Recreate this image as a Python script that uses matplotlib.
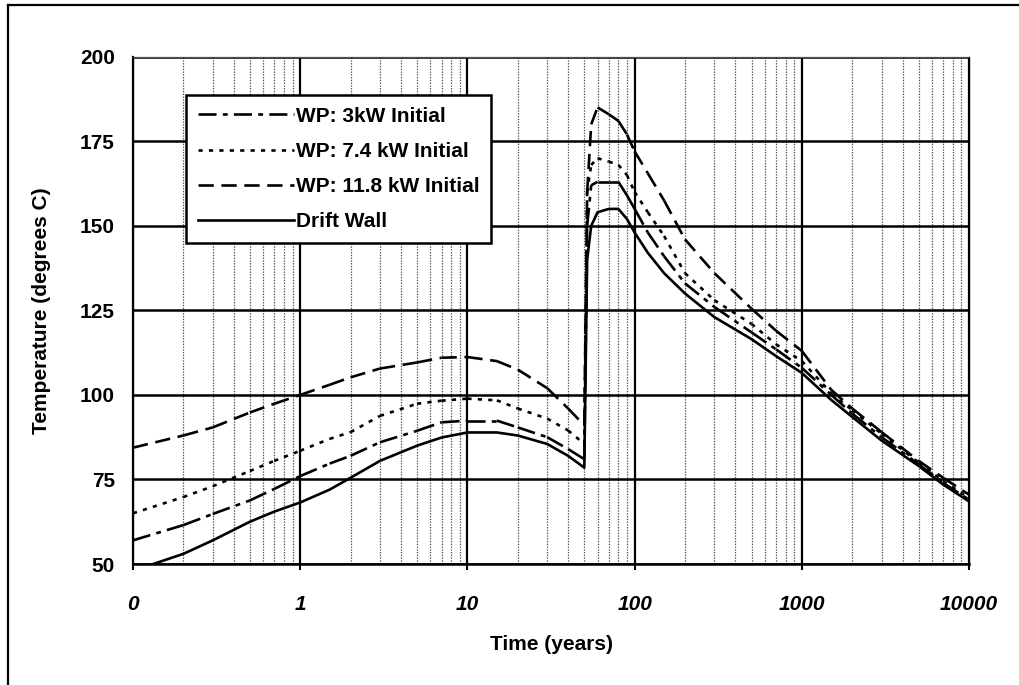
import matplotlib
matplotlib.use("Agg")
import matplotlib.pyplot as plt
from matplotlib.ticker import FixedLocator, LogLocator, NullFormatter
from matplotlib.lines import Line2D

plt.rcParams['font.family'] = ['Liberation Sans', 'DejaVu Sans']
plt.rcParams['font.weight'] = 'bold'
plt.rcParams['lines.scale_dashes'] = False

# === Data ===
years = [0.1, 0.2, 0.3, 0.5, 0.7, 1, 1.5, 2, 3, 5, 7, 10, 15, 20, 30, 40, 50,
         52, 55, 60, 70, 80, 90, 100, 120, 150, 200, 300, 500, 700, 1000,
         1500, 2000, 3000, 5000, 7000, 10000]

wp_3kw = [57, 61.5, 64.8, 68.8, 72.2, 76, 79.7, 82, 86, 89.4, 91.9, 92.4, 92.4, 90.4,
          87.5, 84, 81, 150, 162, 163, 163, 163, 159, 155, 148, 141, 133, 126,
          118.5, 113.5, 108, 100, 94.5, 87.5, 79.5, 74, 69]

wp_7kw = [65, 69.8, 73, 77.5, 80.5, 83.5, 87, 89, 93.8, 97.4, 98.3, 98.9, 98.4, 96,
          93, 89.5, 85.5, 160, 168, 170, 169, 168, 165, 160, 154, 147, 136, 128,
          121, 115, 110, 100.5, 95.5, 88.5, 80, 74.5, 69.5]

wp_12kw = [84.4, 88, 90.4, 94.8, 97.4, 100, 103, 105.2, 107.8, 109.6, 111, 111.2, 110,
           107.5, 102, 96, 91, 160, 180, 185, 183, 181, 177, 172, 165.5, 157.5, 146,
           136, 125.5, 119, 113, 101.5, 96, 89, 80.5, 75.5, 70.5]

drift_wall = [48, 53, 57, 62.5, 65.5, 68.2, 72, 75.5, 80.5, 85, 87.4, 88.9, 88.9, 88,
              85.5, 82, 78.5, 140, 150, 154, 155, 155, 152, 148, 142, 136, 130, 123,
              116.5, 111.5, 106.5, 98.5, 93.5, 86.5, 79, 73.5, 68.5]

x_ticks = [0.1, 1, 10, 100, 1000, 10000]
x_tick_labels = ['0', '1', '10', '100', '1000', '10000']
y_ticks = [50, 75, 100, 125, 150, 175, 200]

series = [
    ('WP: 3kW Initial', wp_3kw, (13, 4.5, 3.5, 4.5)),
    ('WP: 7.4 kW Initial', wp_7kw, (3, 4.5)),
    ('WP: 11.8 kW Initial', wp_12kw, (11, 5.5)),
    ('Drift Wall', drift_wall, None),
]

# === Plot ===
fig = plt.figure(figsize=(10.19, 6.85), dpi=100)
ax = fig.add_axes([0.1305, 0.1766, 0.8205, 0.7406])

# outer frame of the figure
fig.add_artist(Line2D([0.0079, 1.0], [0.9927, 0.9927], transform=fig.transFigure,
                      color='black', lw=1.6))
fig.add_artist(Line2D([0.0079, 0.0079], [0.0, 0.9927], transform=fig.transFigure,
                      color='black', lw=1.6))

lw = 1.9
handles = []
for name, vals, dash in series:
    if dash is None:
        ax.plot(years, vals, color='black', lw=lw, zorder=5)
        handles.append(Line2D([], [], color='black', lw=lw, label=name))
    else:
        # the old spreadsheet restarts the dash pattern at every data point
        for i in range(len(years) - 1):
            ax.plot(years[i:i + 2], vals[i:i + 2], color='black', lw=lw,
                    dashes=dash, solid_capstyle='butt', zorder=5)
        handles.append(Line2D([], [], color='black', lw=lw, dashes=dash, label=name))

ax.set_xscale('log')
ax.set_xlim(0.1, 10000)
ax.set_ylim(50, 200)

ax.xaxis.set_major_locator(FixedLocator(x_ticks))
ax.set_xticklabels(x_tick_labels, fontsize=15, fontweight='bold', style='italic')
ax.xaxis.set_minor_locator(LogLocator(base=10, subs=range(2, 10), numticks=20))
ax.xaxis.set_minor_formatter(NullFormatter())
ax.set_yticks(y_ticks)
ax.set_yticklabels([str(v) for v in y_ticks], fontsize=15, fontweight='bold')

ax.tick_params(axis='x', which='major', direction='out', length=4, width=1.5, pad=18)
ax.tick_params(axis='x', which='minor', length=0)
ax.tick_params(axis='y', length=0, pad=13)

ax.grid(True, axis='x', which='minor', color='#555555', lw=0.9, linestyle=(0, (1, 1)))
ax.grid(True, axis='x', which='major', color='black', lw=1.6)
ax.grid(True, axis='y', which='major', color='black', lw=1.8)
ax.set_axisbelow(True)

ax.spines['left'].set_linewidth(1.6)
ax.spines['bottom'].set_linewidth(1.8)
ax.spines['top'].set_linewidth(0.9)
ax.spines['top'].set_color('#555555')
ax.spines['top'].set_linestyle((0, (1, 1)))
ax.spines['right'].set_linewidth(1.0)

ax.set_xlabel('Time (years)', fontsize=15, fontweight='bold')
ax.set_ylabel('Temperature (degrees C)', fontsize=15, fontweight='bold')
ax.xaxis.set_label_coords(0.5, -0.14)
ax.yaxis.set_label_coords(-0.098, 0.5)

leg = ax.legend(handles=handles, loc='upper left', bbox_to_anchor=(0.064, 0.924),
                borderaxespad=0, fancybox=False, framealpha=1, edgecolor='black',
                fontsize=15, handlelength=4.6, handletextpad=0.1, labelspacing=0.78,
                borderpad=0.55)
leg.get_frame().set_linewidth(1.8)
leg.set_zorder(10)

fig.savefig('out.png', dpi=100)
